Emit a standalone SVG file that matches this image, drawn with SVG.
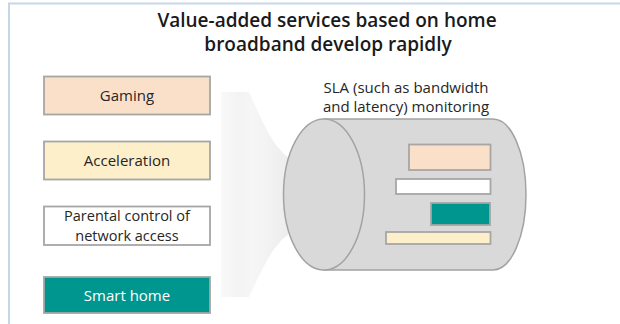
<svg xmlns="http://www.w3.org/2000/svg" width="620" height="324" viewBox="0 0 620 324">
<defs>
<linearGradient id="fade" x1="0" y1="0" x2="1" y2="0">
<stop offset="0" stop-color="#f9f9f9"/>
<stop offset="0.25" stop-color="#f3f3f3"/>
<stop offset="0.45" stop-color="#f6f6f6"/>
<stop offset="1" stop-color="#ececec"/>
</linearGradient>
<style>
.box{stroke:#a6a6a6;stroke-width:1.8}
.lbl{font-family:"Open Sans","Noto Sans",sans-serif;font-size:15px;fill:#262626;text-anchor:middle}
.title{font-family:"Open Sans","Noto Sans",sans-serif;font-size:19px;font-weight:600;fill:#1a1a1a;text-anchor:middle}
.cyl{fill:#d9d9d9;stroke:#a3a3a3;stroke-width:1.5}
.peach{fill:#fbe0c9}
.yellow{fill:#fdefc9}
.white{fill:#ffffff}
.teal{fill:#009690}
</style>
</defs>
<rect width="620" height="324" fill="#ffffff"/>
<path d="M9,324 V3.5 H620" fill="none" stroke="#c5d8ea" stroke-width="2"/>
<g id="title">
<text class="title" x="327" y="27">Value-added services based on home</text>
<text class="title" x="328" y="51">broadband develop rapidly</text>
</g>
<g id="gaming">
<rect class="box peach" x="44" y="76.5" width="166" height="38"/>
<text class="lbl" x="127" y="101">Gaming</text>
</g>
<g id="acceleration">
<rect class="box yellow" x="44" y="141.5" width="166" height="38"/>
<text class="lbl" x="127" y="166">Acceleration</text>
</g>
<g id="parental">
<rect class="box white" x="44" y="206.5" width="166" height="38.5"/>
<text class="lbl" x="127" y="221" style="font-size:14.5px">Parental control of</text>
<text class="lbl" x="127" y="240.5" style="font-size:14.5px">network access</text>
</g>
<g id="smarthome">
<rect class="box teal" x="44" y="277" width="166" height="36"/>
<text class="lbl" x="127" y="301" style="fill:#ffffff">Smart home</text>
</g>
<g id="connectors">
<path d="M221,92 H249 C262,120 272,148 292,160 L292,232 C272,244 262,270 249,297 H221 Z" fill="url(#fade)"/>
</g>
<g id="sla">
<path class="cyl" d="M324,119 H493 A33,75.5 0 0 1 493,270 H324 Z"/>
<ellipse class="cyl" cx="324" cy="194.5" rx="40.5" ry="75.5"/>
<rect class="box peach" x="409" y="144.5" width="81.5" height="25.5"/>
<rect class="box white" x="396" y="179" width="94.5" height="15"/>
<rect class="box teal" x="431" y="203" width="59" height="22"/>
<rect class="box yellow" x="386" y="232" width="104.5" height="12"/>
<text class="lbl" x="406" y="92.5">SLA (such as bandwidth</text>
<text class="lbl" x="406" y="112">and latency) monitoring</text>
</g>
</svg>
